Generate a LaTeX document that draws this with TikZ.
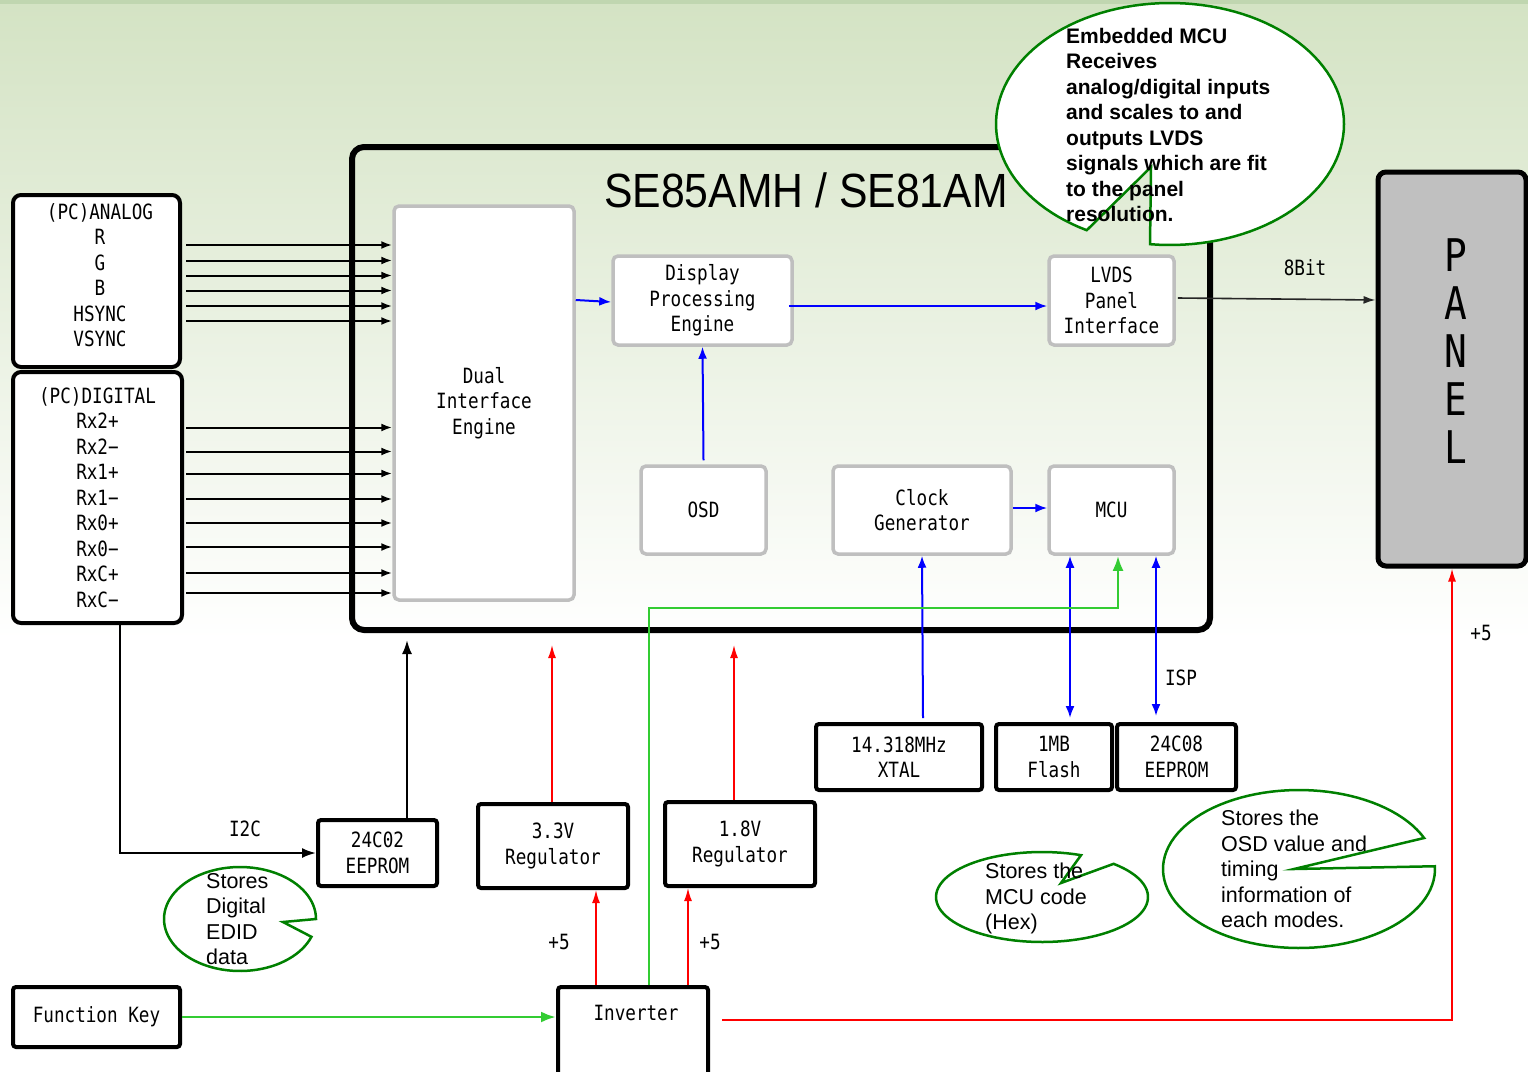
\documentclass[tikz,border=0pt]{standalone}
\usepackage{fontspec}
\setmainfont{Liberation Sans}
\newfontfamily\gul[FakeStretch=0.84]{DejaVu Sans Mono}
\newfontfamily\titlef[FakeStretch=0.89]{Liberation Sans}
\usetikzlibrary{arrows.meta}
\definecolor{bgtop}{RGB}{212,227,196}
\definecolor{bgline}{RGB}{192,214,176}
\definecolor{boxgray}{RGB}{191,191,191}
\definecolor{panelgray}{RGB}{192,192,192}
\definecolor{cgreen}{RGB}{0,128,0}
\definecolor{lgreen}{RGB}{51,204,51}
\begin{document}
\begin{tikzpicture}[x=1pt,y=-1pt,
  gfont/.style={font=\gul\fontsize{21}{25.5}\selectfont},
  gbox/.style={gfont, draw=boxgray, line width=3.5pt, fill=white, rounded corners=5pt, align=center, inner sep=0pt},
  bbox/.style={gfont, draw=black, line width=4pt, fill=white, rounded corners=3pt, align=center, inner sep=0pt},
  lbl/.style={gfont, inner sep=0pt, align=center},
  ctext/.style={font=\fontsize{21.5}{25.5}\selectfont, align=left, inner sep=0pt, anchor=north west},
  callout/.style={draw=cgreen, line width=2.5pt, fill=white, line join=miter},
  sig/.style={line width=2pt, -{Latex[length=11pt,width=8pt]}},
  blk/.style={line width=2.2pt, -{Latex[length=14pt,width=10pt]}},
  bl/.style={draw=blue, line width=2pt, -{Latex[length=12pt,width=9pt]}},
  bltwo/.style={draw=blue, line width=2pt, {Latex[length=12pt,width=9pt]}-{Latex[length=12pt,width=9pt]}},
  rd/.style={draw=red, line width=1.6pt, -{Latex[length=13pt,width=8pt]}},
  gr/.style={draw=lgreen, line width=2.8pt, -{Latex[length=15pt,width=11pt]}}
]
\useasboundingbox (0,0) rectangle (1528,1071);
% background
\fill[white] (0,0) rectangle (1528,1071);
\shade[top color=bgtop, bottom color=white] (0,4) rectangle (1528,640);
\fill[bgline] (0,0) rectangle (1528,4);

% main chip box
\node[draw=black, line width=6pt, rounded corners=12pt, minimum width=858pt, minimum height=483pt, inner sep=0pt] (main) at (781,388.5) {};
\node[font=\titlef\fontsize{48}{48}\selectfont, inner sep=0pt] (title) at (806,190) {SE85AMH / SE81AM};

% inner blocks
\node[gbox, minimum width=180pt, minimum height=394pt] (dual) at (484,403) {Dual\\Interface\\Engine};
\node[gbox, minimum width=179pt, minimum height=89pt] (dpe) at (702.5,300.5) {Display\\Processing\\Engine};
\node[gbox, minimum width=125pt, minimum height=89pt] (lvds) at (1111.5,300.5) {LVDS\\Panel\\Interface};
\node[gbox, minimum width=125pt, minimum height=88pt] (osd) at (703.5,510) {OSD};
\node[gbox, minimum width=178pt, minimum height=88pt] (clk) at (922,510) {Clock\\Generator};
\node[gbox, minimum width=125pt, minimum height=88pt] (mcu) at (1111.5,510) {MCU};

% inputs
\node[bbox, rounded corners=8pt, minimum width=167pt, minimum height=172pt] (analog) at (96.5,281) {};
\node[lbl] (analogtxt) at (100,275) {(PC)ANALOG\\R\\G\\B\\HSYNC\\VSYNC};
\node[bbox, rounded corners=8pt, minimum width=169pt, minimum height=251pt] (digital) at (97.5,497.5) {(PC)DIGITAL\\Rx2+\\Rx2−\\Rx1+\\Rx1−\\Rx0+\\Rx0−\\RxC+\\RxC−};

% panel
\node[draw=black, fill=panelgray, line width=5pt, rounded corners=8pt, minimum width=148pt, minimum height=394pt, inner sep=0pt] (panel) at (1452,369) {};
\node[font=\gul\fontsize{45}{48}\selectfont, align=center, inner sep=0pt] (paneltxt) at (1456,351.5) {P\\A\\N\\E\\L};

% external parts
\node[bbox, minimum width=166pt, minimum height=66pt] (xtal) at (899,757) {14.318MHz\\XTAL};
\node[bbox, minimum width=116pt, minimum height=66pt] (flash) at (1054,757) {1MB\\Flash};
\node[bbox, minimum width=119pt, minimum height=66pt] (eepb) at (1176.5,757) {24C08\\EEPROM};
\node[bbox, minimum width=119pt, minimum height=66pt] (eepa) at (377.5,853) {24C02\\EEPROM};
\node[bbox, minimum width=150pt, minimum height=84pt] (rega) at (553,846) {3.3V\\Regulator};
\node[bbox, minimum width=150pt, minimum height=84pt] (regb) at (740,844) {1.8V\\Regulator};
\node[bbox, minimum width=150pt, minimum height=92pt] (inv) at (633,1033) {};
\node[lbl] (invtxt) at (636,1013) {Inverter};
\node[bbox, minimum width=167pt, minimum height=60pt] (fkey) at (96.5,1017) {Function Key};

% input signal arrows
\foreach \yy in {245,260.5,275.5,290.5,306,321}
  \draw[sig] (analog.east |- 0,\yy) ++(4,0) -- (dual.west |- 0,\yy);
\foreach \yy in {427.5,451.5,473.5,499,523,547,573,593}
  \draw[sig] (digital.east |- 0,\yy) ++(2,0) -- (dual.west |- 0,\yy);

% blue internal connections
\draw[bl] (dual.east |- 0,300) -- (dpe.west |- 0,302);
\draw[bl] (dpe.east |- 0,306) ++(-5,0) -- (lvds.west |- 0,306);
\draw[bl] (osd.north) ++(0,-4) -- (dpe.south);
\draw[bl] (clk.east |- 0,508) -- (mcu.west |- 0,508);
\draw[bl] (clk.south |- xtal.north) ++(1,-4) -- (clk.south);
\draw[bltwo] (flash.north -| 1070,0) ++(0,-4) -- (mcu.south -| 1070,0);
\draw[bltwo] (eepb.north -| 1156,0) ++(0,-6) -- (mcu.south -| 1156,0);
\node[lbl] (isp) at (1181,678) {ISP};

% LVDS to panel
\draw[line width=1.6pt, draw=black!85, -{Latex[length=12pt,width=8pt]}] (lvds.east |- 0,298) ++(2,0) -- (panel.west |- 0,300);
\node[lbl] (bit) at (1305,268) {8Bit};

% green control line
\draw[gr] (inv.north -| 649,0) |- (1118,608) -- (mcu.south -| 1118,0);
\draw[gr] (fkey.east) -- (inv.west |- fkey.east);

% EDID EEPROM
\coordinate (mtop) at (407,640);
\draw[blk] (eepa.north -| mtop) -- (mtop);
\draw[blk] (digital.south -| 120,0) |- (eepa.west);
\node[lbl] (itwoc) at (245,829) {I2C};

% power
\coordinate (ra) at (552,645);
\coordinate (rb) at (734,645);
\draw[rd] (rega.north -| ra) -- (ra);
\draw[rd] (regb.north -| rb) -- (rb);
\draw[rd] (inv.north -| 596,0) -- (rega.south -| 596,0);
\draw[rd] (inv.north -| 688,0) -- (regb.south -| 688,0);
\node[lbl] (pa) at (559,942) {+5};
\node[lbl] (pb) at (710,942) {+5};
\draw[rd] (inv.east |- 0,1020) ++(12,0) -| (panel.south);
\node[lbl] (pc) at (1481,633) {+5};

% callouts
\filldraw[callout] plot[domain=-241.4:96.6, samples=120] ({1170+174*cos(\x)},{124+121*sin(\x)}) -- (1151,167) -- cycle;
\node[ctext, font=\bfseries\fontsize{21}{25.5}\selectfont] (ctop) at (1066,28) {Embedded MCU\\Receives\\analog/digital inputs\\and scales to and\\outputs LVDS\\signals which are fit\\to the panel\\resolution.};

\filldraw[callout] plot[domain=20:360, samples=90] ({240+76*cos(\x)},{919+52*sin(\x)}) -- (283,922) -- cycle;
\node[ctext] (cedid) at (206,873) {Stores\\Digital\\EDID\\data};

\filldraw[callout] plot[domain=-47.5:291.6, samples=90] ({1042+106*cos(\x)},{897+45*sin(\x)}) -- (1061,883) -- cycle;
\node[ctext] (cmcu) at (985,863) {Stores the\\MCU code\\(Hex)};

\filldraw[callout] plot[domain=-2:336.9, samples=100] ({1299+136*cos(\x)},{869+79*sin(\x)}) -- (1294,869) -- cycle;
\node[ctext] (cosd) at (1221,810) {Stores the\\OSD value and\\timing\\information of\\each modes.};
\end{tikzpicture}
\end{document}
